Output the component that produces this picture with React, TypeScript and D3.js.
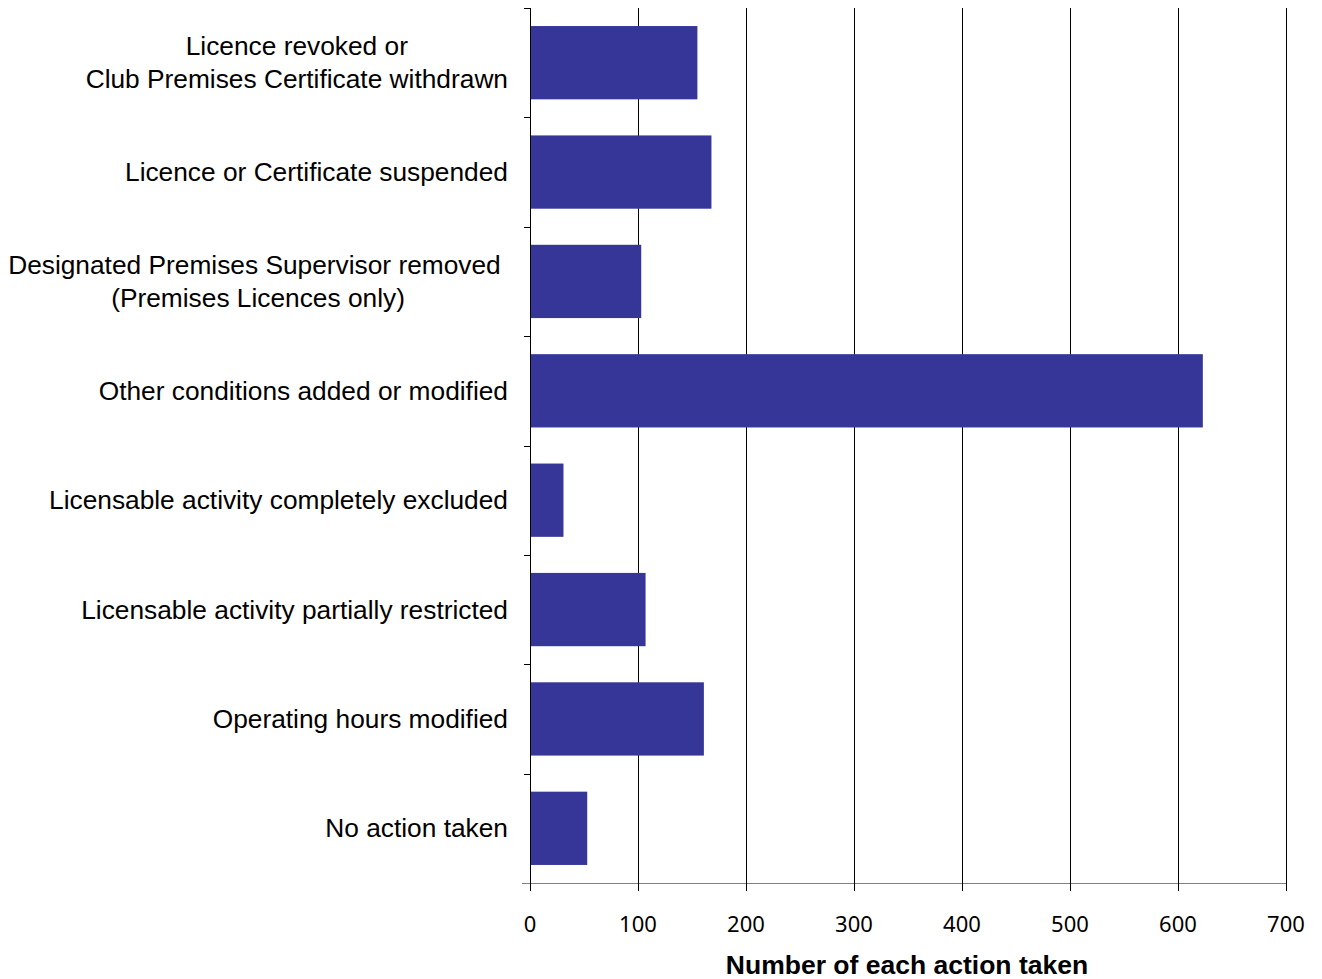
import * as d3 from 'd3';
import { useRef, useEffect } from 'react';

const categories = [
  'Licence revoked or\nClub Premises Certificate withdrawn',
  'Licence or Certificate suspended',
  'Designated Premises Supervisor removed \n(Premises Licences only)',
  'Other conditions added or modified',
  'Licensable activity completely excluded',
  'Licensable activity partially restricted',
  'Operating hours modified',
  'No action taken',
];
const values = [155, 168, 103, 623, 31, 107, 161, 53];
const xTicks = [0, 100, 200, 300, 400, 500, 600, 700];

export default function App() {
  const svgRef = useRef<SVGSVGElement>(null);

  useEffect(() => {
    if (!svgRef.current) return;
    const W = 1322, H = 979;
    const left = 530, right = 1286, top = 8, bottom = 883;
    const numFont = '"Noto Sans", "Open Sans", sans-serif';
    const labelFont = '"Liberation Sans", Arial, sans-serif';

    const svg = d3.select(svgRef.current);
    svg.selectAll('*').remove();
    svg.attr('width', W).attr('height', H);

    const x = d3.scaleLinear().domain([0, 700]).range([left, right]);
    const px = (v: number) => Math.round(x(v)) + 0.5;
    const y = d3.scaleBand<number>()
      .domain(d3.range(categories.length))
      .range([top, bottom])
      .paddingInner(0.33)
      .paddingOuter(0.165);

    // Vertical gridlines
    svg.append('g')
      .selectAll('line')
      .data(xTicks.slice(1))
      .enter()
      .append('line')
      .attr('x1', d => px(d)).attr('x2', d => px(d))
      .attr('y1', top).attr('y2', bottom)
      .attr('stroke', '#000').attr('stroke-width', 1)
      .attr('shape-rendering', 'crispEdges');

    // Bars
    svg.append('g')
      .selectAll('rect')
      .data(values)
      .enter()
      .append('rect')
      .attr('x', x(0))
      .attr('y', (_, i) => y(i) || 0)
      .attr('width', d => x(d) - x(0))
      .attr('height', y.bandwidth())
      .attr('fill', '#363699');

    // Y axis line + category boundary ticks
    const step = (bottom - top) / categories.length;
    svg.append('line')
      .attr('x1', px(0)).attr('x2', px(0))
      .attr('y1', top).attr('y2', bottom + 8)
      .attr('stroke', '#000')
      .attr('shape-rendering', 'crispEdges');
    svg.append('g')
      .selectAll('line')
      .data(d3.range(categories.length))
      .enter()
      .append('line')
      .attr('x1', left - 6).attr('x2', left)
      .attr('y1', d => Math.round(top + d * step) + 0.5).attr('y2', d => Math.round(top + d * step) + 0.5)
      .attr('stroke', '#000')
      .attr('shape-rendering', 'crispEdges');

    // X axis
    svg.append('line')
      .attr('x1', left - 8).attr('x2', right)
      .attr('y1', bottom + 0.5).attr('y2', bottom + 0.5)
      .attr('stroke', '#808080')
      .attr('shape-rendering', 'crispEdges');
    svg.append('g')
      .selectAll('line')
      .data(xTicks)
      .enter()
      .append('line')
      .attr('x1', d => px(d)).attr('x2', d => px(d))
      .attr('y1', bottom).attr('y2', bottom + 8)
      .attr('stroke', '#000')
      .attr('shape-rendering', 'crispEdges');
    svg.append('g')
      .selectAll('text')
      .data(xTicks)
      .enter()
      .append('text')
      .attr('x', d => x(d))
      .attr('y', 932)
      .attr('text-anchor', 'middle')
      .attr('font-family', numFont)
      .attr('font-size', 22)
      .text(d => d);

    // Category labels: block right-aligned, lines centred in block
    const labelRight = 508;
    categories.forEach((c, i) => {
      const lines = c.split('\n');
      const cy = (y(i) || 0) + y.bandwidth() / 2;
      const lh = 33;
      const g = svg.append('g');
      const texts = lines.map((ln, j) =>
        g.append('text')
          .attr('y', cy + (j - (lines.length - 1) / 2) * lh + 9)
          .attr('font-family', labelFont)
          .attr('font-size', 26.3)
          .attr('xml:space', 'preserve')
          .style('white-space', 'pre')
          .text(ln)
      );
      const widths = texts.map(t => (t.node() as SVGTextElement).getComputedTextLength());
      const maxW = d3.max(widths) || 0;
      texts.forEach(t => t.attr('x', labelRight - maxW / 2).attr('text-anchor', 'middle'));
    });

    // Axis title
    svg.append('text')
      .attr('x', 907)
      .attr('y', 974)
      .attr('text-anchor', 'middle')
      .attr('font-family', labelFont)
      .attr('font-size', 26.5)
      .attr('font-weight', 'bold')
      .text('Number of each action taken');
  }, []);

  return <svg ref={svgRef} style={{ position: 'absolute', left: 0, top: 0 }} />;
}
